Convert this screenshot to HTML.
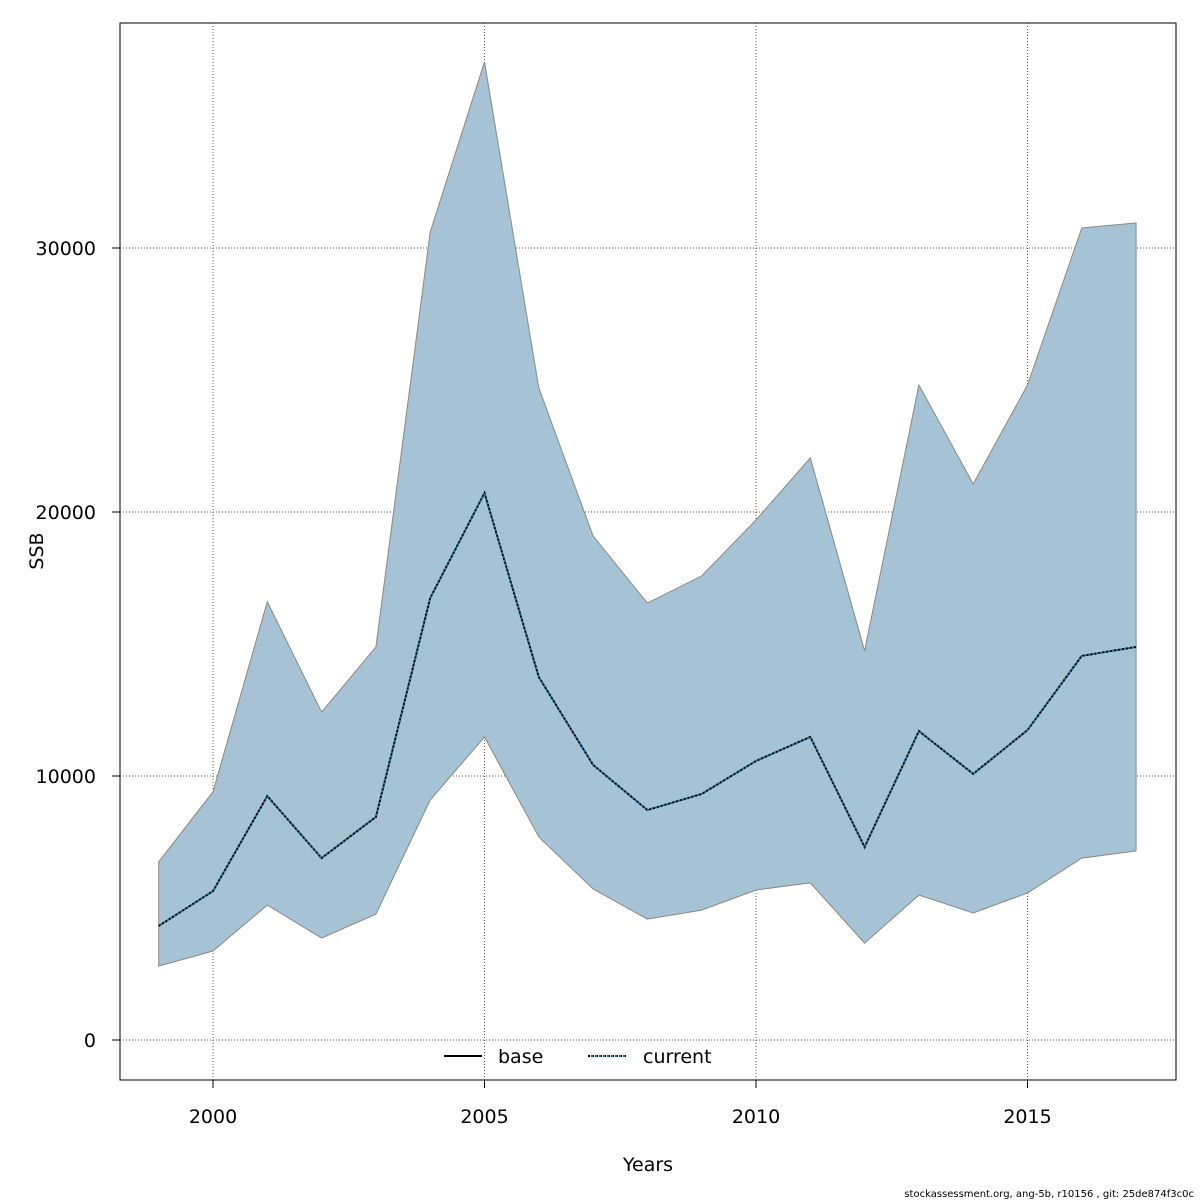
<!DOCTYPE html>
<html><head><meta charset="utf-8"><style>
html,body{margin:0;padding:0;background:#fff;}
svg{display:block;font-family:"DejaVu Sans","Liberation Sans",sans-serif;}
</style></head><body>
<svg id="chart" width="1200" height="1200" viewBox="0 0 1200 1200">
<rect x="120" y="23" width="1056" height="1057" fill="none" stroke="#000" stroke-width="1"/>
<g id="grid"></g>
<g id="marks"></g>
<g id="axes"></g>
<text x="648" y="1171" font-size="19" text-anchor="middle">Years</text>
<text x="43" y="551" font-size="19" text-anchor="middle" transform="rotate(-90 43 551)">SSB</text>
<g>
<line x1="444" y1="1056" x2="482" y2="1056" stroke="#000" stroke-width="2"/>
<text x="498" y="1063" font-size="19">base</text>
<line x1="588" y1="1056" x2="626" y2="1056" stroke="#000" stroke-width="2" stroke-dasharray="2,2"/>
<line x1="589" y1="1056" x2="626" y2="1056" stroke="#1d6a8c" stroke-width="2" stroke-dasharray="2,2" stroke-dashoffset="2"/>
<text x="643" y="1063" font-size="19">current</text>
</g>
<text x="1194" y="1197" font-size="10" text-anchor="end">stockassessment.org, ang-5b, r10156 , git: 25de874f3c0c</text>
</svg>
<script>
const years=[1999,2000,2001,2002,2003,2004,2005,2006,2007,2008,2009,2010,2011,2012,2013,2014,2015,2016,2017];
const ssbUpper=[6750,9400,16600,12420,14890,30600,37050,24700,19090,16550,17580,19700,22050,14740,24810,21060,24810,30760,30950];
const ssbMid=[4320,5640,9240,6890,8450,16740,20720,13750,10420,8710,9320,10570,11480,7310,11700,10080,11740,14550,14890];
const ssbLower=[2800,3370,5110,3860,4770,9090,11480,7690,5720,4580,4920,5680,5950,3670,5490,4810,5570,6890,7160];
const xTicks=[2000,2005,2010,2015];
const yTicks=[0,10000,20000,30000];
const NS="http://www.w3.org/2000/svg";
const X=y=>213+(y-2000)*54.3;
const Y=v=>1040-v*0.0264;
function mk(tag,attrs,parent){const e=document.createElementNS(NS,tag);for(const k in attrs)e.setAttribute(k,attrs[k]);parent.appendChild(e);return e;}
const grid=document.getElementById('grid'),marks=document.getElementById('marks'),axes=document.getElementById('axes');
xTicks.forEach(t=>{
 const l=mk('line',{x1:X(t),x2:X(t),y1:23,y2:1080,stroke:'#555','stroke-dasharray':'1,2'},grid);
 
 
 const tk=mk('line',{x1:X(t),x2:X(t),y1:1080,y2:1088,stroke:'#000'},axes);
 
 
 const tx=mk('text',{x:X(t),y:1123,'font-size':19,'text-anchor':'middle'},axes);
 tx.textContent=t;
 
 
});
yTicks.forEach(t=>{
 const l=mk('line',{x1:120,x2:1176,y1:Y(t),y2:Y(t),stroke:'#555','stroke-dasharray':'1,2'},grid);
 
 
 const tk=mk('line',{x1:112,x2:120,y1:Y(t),y2:Y(t),stroke:'#000'},axes);
 
 
 const tx=mk('text',{x:96,y:Y(t)+7,'font-size':19,'text-anchor':'end'},axes);
 tx.textContent=t;
 
 
});
let pts=years.map((y,i)=>X(y)+','+Y(ssbUpper[i]));
for(let i=years.length-1;i>=0;i--)pts.push(X(years[i])+','+Y(ssbLower[i]));
const band=mk('polygon',{points:pts.join(' '),fill:'#a5c3d4',stroke:'#888','stroke-width':1},marks);


const mp=years.map((y,i)=>X(y)+','+Y(ssbMid[i])).join(' ');
const base=mk('polyline',{points:mp,fill:'none',stroke:'#000','stroke-width':2,'stroke-dasharray':'2,2'},marks);


const cur=mk('polyline',{points:mp,fill:'none',stroke:'#1d6a8c','stroke-width':2,'stroke-dasharray':'2,2','stroke-dashoffset':2},marks);


</script>
</body></html>
